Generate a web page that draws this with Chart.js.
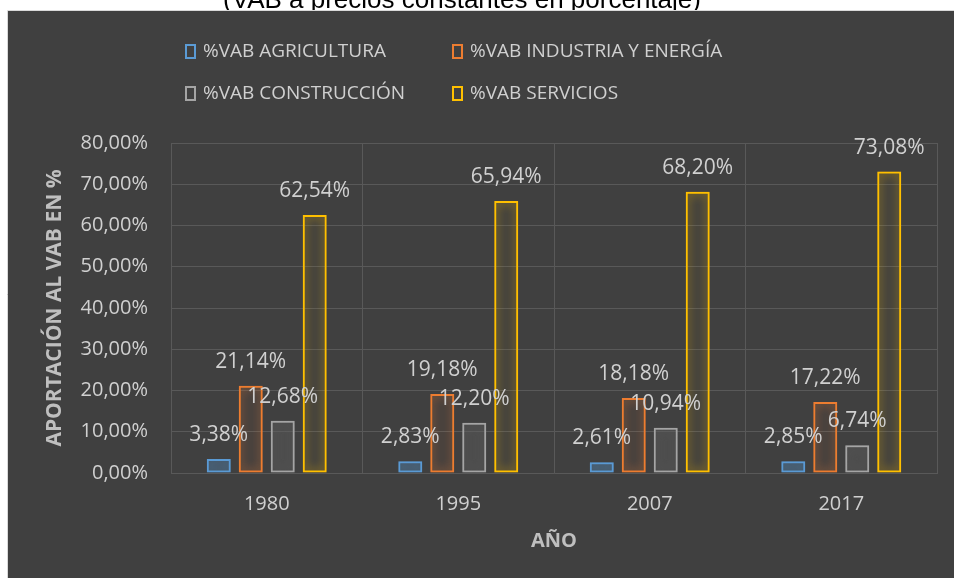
<!DOCTYPE html>
<html>
<head>
<meta charset="utf-8">
<script src="https://cdn.jsdelivr.net/npm/chart.js@4.4.1/dist/chart.umd.min.js"></script>
<style>
  html, body { margin: 0; padding: 0; background: #ffffff; }
  #wrap { width: 954px; height: 578px; }
</style>
</head>
<body>
<div id="wrap"><canvas id="vabChart" width="954" height="578"></canvas></div>
<script>
  const years = ["1980", "1995", "2007", "2017"];
  const agricultura = [3.38, 2.83, 2.61, 2.85];
  const industria = [21.14, 19.18, 18.18, 17.22];
  const construccion = [12.68, 12.20, 10.94, 6.74];
  const servicios = [62.54, 65.94, 68.20, 73.08];
  const seriesNames = ["%VAB AGRICULTURA", "%VAB INDUSTRIA Y ENERGÍA", "%VAB CONSTRUCCIÓN", "%VAB SERVICIOS"];
  const yTicks = [0, 10, 20, 30, 40, 50, 60, 70, 80];

  const chartTitle = "(VAB a precios constantes en porcentaje)";
  const yTitle = "APORTACIÓN AL VAB EN %";
  const xTitle = "AÑO";

  const colors = ["#5b9bd5", "#ed7d31", "#a5a5a5", "#ffc000"];
  const fills = ["rgba(91,155,213,0.12)", "rgba(237,125,49,0.03)", "rgba(60,60,60,0.3)", "rgba(255,192,0,0.02)"];
  const glows = ["rgba(91,155,213,0.9)", "rgba(237,125,49,0.8)", "rgba(165,165,165,0.7)", "rgba(255,192,0,0.8)"];

  const panelBg = "#404040";
  const textColor = "#d0d0d0";
  const gridColor = "#595959";
  const baseFont = "'Open Sans', 'DejaVu Sans', sans-serif";

  const fmt = (v) => v.toFixed(2).replace(".", ",") + "%";

  // background: white page + dark chart panel, and the cut-off title above it
  const panelPlugin = {
    id: "panel",
    beforeDraw(chart) {
      const ctx = chart.ctx;
      ctx.save();
      ctx.fillStyle = "#ffffff";
      ctx.fillRect(0, 0, chart.width, chart.height);
      ctx.fillStyle = "#000000";
      ctx.font = "26px 'Liberation Sans', Arial, sans-serif";
      ctx.textAlign = "center";
      ctx.textBaseline = "alphabetic";
      ctx.fillText(chartTitle, 462, 8);
      ctx.fillStyle = panelBg;
      ctx.fillRect(7, 11, chart.width - 7, chart.height - 11);
      ctx.strokeStyle = "#d9d9d9";
      ctx.lineWidth = 1;
      ctx.beginPath();
      ctx.moveTo(7.5, chart.height);
      ctx.lineTo(7.5, 10.5);
      ctx.lineTo(chart.width, 10.5);
      ctx.stroke();
      ctx.restore();
    },
  };

  // soft glow round the outlined bars
  const glowPlugin = {
    id: "glow",
    beforeDatasetDraw(chart, args) {
      const ctx = chart.ctx;
      ctx.save();
      ctx.shadowColor = glows[args.index];
      ctx.shadowBlur = 10;
    },
    afterDatasetDraw(chart) {
      chart.ctx.restore();
    },
  };

  const labelsPlugin = {
    id: "valueLabels",
    afterDatasetsDraw(chart) {
      const ctx = chart.ctx;
      ctx.save();
      ctx.fillStyle = textColor;
      ctx.font = "21px " + baseFont;
      ctx.textAlign = "center";
      ctx.textBaseline = "alphabetic";
      chart.data.datasets.forEach((ds, i) => {
        const meta = chart.getDatasetMeta(i);
        meta.data.forEach((bar, j) => {
          ctx.fillText(fmt(ds.data[j]), bar.x, bar.y - 18);
        });
      });
      ctx.restore();
    },
  };

  // two column legend like the Excel one
  const legendPlugin = {
    id: "gridLegend",
    afterDraw(chart) {
      const ctx = chart.ctx;
      const colX = [185, 452];
      const rowY = [51, 93];
      ctx.save();
      ctx.font = "19px " + baseFont;
      ctx.textBaseline = "middle";
      ctx.textAlign = "left";
      chart.data.datasets.forEach((ds, i) => {
        const x = colX[i % 2];
        const y = rowY[Math.floor(i / 2)];
        ctx.strokeStyle = ds.borderColor;
        ctx.lineWidth = 2;
        ctx.strokeRect(x + 1, y - 6, 9, 13);
        ctx.fillStyle = textColor;
        ctx.fillText(ds.label, x + 18, y + 1);
      });
      ctx.restore();
    },
  };

  const makeSet = (i, data) => ({
    label: seriesNames[i],
    data: data,
    backgroundColor: fills[i],
    borderColor: colors[i],
    borderWidth: 2,
    borderSkipped: false,
    categoryPercentage: 0.668,
    barPercentage: 0.75,
  });

  const ctx = document.getElementById("vabChart").getContext("2d");
  new Chart(ctx, {
    type: "bar",
    data: {
      labels: years,
      datasets: [
        makeSet(0, agricultura),
        makeSet(1, industria),
        makeSet(2, construccion),
        makeSet(3, servicios),
      ],
    },
    options: {
      responsive: false,
      animation: false,
      events: [],
      layout: { padding: { top: 143, right: 17, bottom: 0, left: 0 } },
      plugins: {
        legend: { display: false },
        tooltip: { enabled: false },
      },
      scales: {
        x: {
          grid: { color: gridColor, drawTicks: false, offset: true },
          border: { color: gridColor },
          ticks: { color: textColor, font: { family: baseFont, size: 20 }, padding: 19 },
          title: {
            display: true,
            text: xTitle,
            color: "#bfbfbf",
            font: { family: baseFont, size: 20, weight: "bold" },
            padding: { top: 0, bottom: 25 },
          },
          afterFit(scale) { scale.height = 105; },
        },
        y: {
          min: 0,
          max: 80,
          afterBuildTicks(scale) { scale.ticks = yTicks.map((v) => ({ value: v })); },
          grid: { color: gridColor, drawTicks: false },
          border: { color: gridColor },
          ticks: {
            color: textColor,
            font: { family: baseFont, size: 20 },
            padding: 23,
            callback: (v) => fmt(v),
          },
          title: {
            display: true,
            text: yTitle,
            color: "#bfbfbf",
            font: { family: baseFont, size: 21, weight: "bold" },
            padding: 42,
          },
          afterFit(scale) { scale.width = 171; },
        },
      },
    },
    plugins: [panelPlugin, glowPlugin, labelsPlugin, legendPlugin],
  });
</script>
</body>
</html>
